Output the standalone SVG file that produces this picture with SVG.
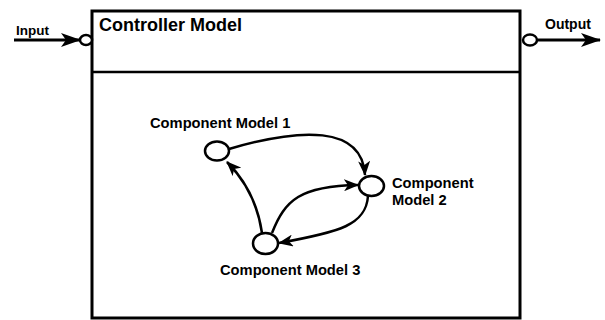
<svg xmlns="http://www.w3.org/2000/svg" width="605" height="320" viewBox="0 0 605 320">
<style>
text{font-family:"Liberation Sans",Arial,sans-serif;font-weight:bold;fill:#000}
.lbl{font-size:14.7px}
.node{fill:#fff;stroke:#000;stroke-width:2.5}
.edge{fill:none;stroke:#000;stroke-width:2.5}
.io{fill:none;stroke:#000;stroke-width:3}
</style>
<defs>
<marker id="ah" viewBox="0 0 15 12" refX="14" refY="6" markerWidth="15" markerHeight="12" markerUnits="userSpaceOnUse" orient="auto">
<path d="M0,0 L15,6 L0,12 L4,6 Z" fill="#000"/>
</marker>
<marker id="ahb" viewBox="0 0 20 14" refX="19" refY="7" markerWidth="20" markerHeight="14" markerUnits="userSpaceOnUse" orient="auto">
<path d="M0,0 L20,7 L0,14 L5,7 Z" fill="#000"/>
</marker>
</defs>
<g id="controller">
<rect x="92" y="11" width="428" height="307" fill="#fff" stroke="#000" stroke-width="3"/>
<line x1="92" y1="72" x2="520" y2="72" stroke="#000" stroke-width="2.5"/>
<text x="99" y="31" font-size="18">Controller Model</text>
</g>
<g id="input">
<text x="16" y="35" font-size="13.5">Input</text>
<ellipse cx="86" cy="40" rx="6" ry="5" class="node"/>
</g>
<g id="output">
<ellipse cx="530" cy="40" rx="7" ry="5.5" class="node"/>
<text x="545" y="29" font-size="14">Output</text>
</g>
<g id="cm1">
<ellipse cx="217" cy="151" rx="12" ry="9.5" class="node"/>
<text x="150" y="128" class="lbl">Component Model 1</text>
</g>
<g id="cm2">
<ellipse cx="371.5" cy="186" rx="12.5" ry="10" class="node"/>
<text x="392" y="188" class="lbl">Component</text>
<text x="392" y="205" class="lbl">Model 2</text>
</g>
<g id="cm3">
<ellipse cx="265.5" cy="243.5" rx="12.5" ry="10.5" class="node"/>
<text x="220" y="275" class="lbl">Component Model 3</text>
</g>
<g id="connectors">
<line x1="14" y1="40" x2="80" y2="40" class="io" marker-end="url(#ahb)"/>
<line x1="537" y1="40" x2="600" y2="40" class="io" marker-end="url(#ahb)"/>
<path d="M229,149 C300,128 362,125 365,175" class="edge" marker-end="url(#ah)"/>
<path d="M262,233 C258,205 245,180 227,162" class="edge" marker-end="url(#ah)"/>
<path d="M272,233 C285,200 300,186 358,185" class="edge" marker-end="url(#ah)"/>
<path d="M368,196 C366,225 340,232 279,243" class="edge" marker-end="url(#ah)"/>
</g>
</svg>
